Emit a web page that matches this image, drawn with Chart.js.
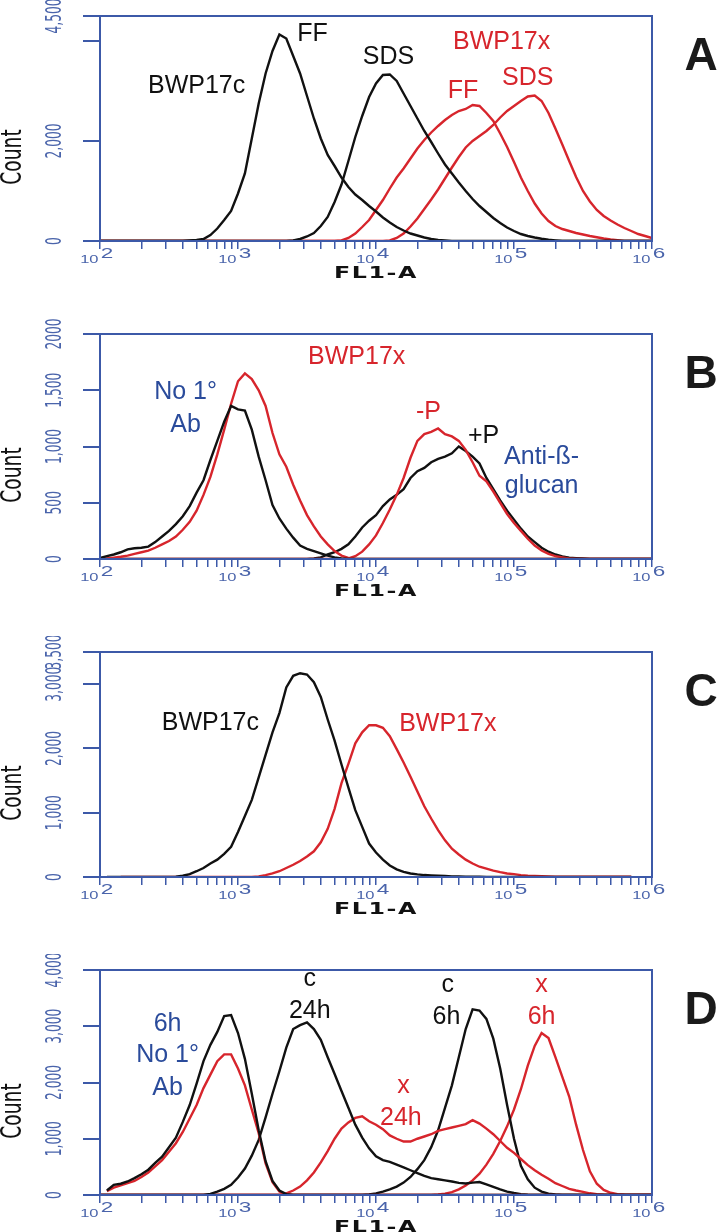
<!DOCTYPE html>
<html>
<head>
<meta charset="utf-8">
<script src="https://cdn.jsdelivr.net/npm/chart.js"></script>
<style>
  body { margin: 0; background: #fff; width: 723px; height: 1232px; position: relative; overflow: hidden; }
  .panel { position: absolute; left: 0; width: 723px; height: 290px; }
</style>
</head>
<body>
<div class="panel" style="top:0px"><canvas id="chartA"></canvas></div>
<div class="panel" style="top:318px"><canvas id="chartB"></canvas></div>
<div class="panel" style="top:636px"><canvas id="chartC"></canvas></div>
<div class="panel" style="top:954px"><canvas id="chartD"></canvas></div>
<script>
const INK = "#111111";
const RED = "#d7252c";
const BLUE = "#2a4b9b";
const AXIS_BLUE = "#3c59a8";
const TICK_BLUE = "#4a64ab";

// FL1-A channels, as powers of ten (10^2 .. 10^6)
const channelExp = [
  2.00, 2.05, 2.10, 2.15, 2.20, 2.25, 2.30, 2.35, 2.40, 2.45,
  2.50, 2.55, 2.60, 2.65, 2.70, 2.75, 2.80, 2.85, 2.90, 2.95,
  3.00, 3.05, 3.10, 3.15, 3.20, 3.25, 3.30, 3.35, 3.40, 3.45,
  3.50, 3.55, 3.60, 3.65, 3.70, 3.75, 3.80, 3.85, 3.90, 3.95,
  4.00, 4.05, 4.10, 4.15, 4.20, 4.25, 4.30, 4.35, 4.40, 4.45,
  4.50, 4.55, 4.60, 4.65, 4.70, 4.75, 4.80, 4.85, 4.90, 4.95,
  5.00, 5.05, 5.10, 5.15, 5.20, 5.25, 5.30, 5.35, 5.40, 5.45,
  5.50, 5.55, 5.60, 5.65, 5.70, 5.75, 5.80, 5.85, 5.90, 5.95,
  6.00,
];
const decadeExp = [2, 3, 4, 5, 6];

// Panel A counts
const aControlFF = [
  0, 0, 0, 0, 0, 0, 0, 0, 0, 0,
  0, 0, 0, 10, 20, 40, 120, 250, 420, 600,
  950, 1350, 2050, 2750, 3350, 3800, 4130, 4050, 3700, 3350,
  2900, 2450, 2050, 1720, 1500, 1270, 1080, 930, 820, 700,
  590, 470, 370, 280, 210, 150, 110, 70, 40, 20,
  10, 0, 0, 0, 0, 0, 0, 0, 0, 0,
  0, 0, 0, 0, 0, 0, 0, 0, 0, 0,
  0, 0, 0, 0, 0, 0, 0, 0, 0, 0,
  0,
];
const aControlSDS = [
  0, 0, 0, 0, 0, 0, 0, 0, 0, 0,
  0, 0, 0, 0, 0, 0, 0, 0, 0, 0,
  0, 0, 0, 0, 0, 0, 0, 0, 10, 40,
  90, 160, 300, 480, 780, 1130, 1600, 2080, 2500, 2880,
  3150, 3320, 3330, 3200, 2950, 2700, 2450, 2200, 1980, 1750,
  1530, 1350, 1170, 1000, 840, 700, 580, 460, 360, 270,
  200, 140, 100, 70, 45, 25, 12, 0, 0, 0,
  0, 0, 0, 0, 0, 0, 0, 0, 0, 0,
  0,
];
const aMutantFF = [
  0, 0, 0, 0, 0, 0, 0, 0, 0, 0,
  0, 0, 0, 0, 0, 0, 0, 0, 0, 0,
  0, 0, 0, 0, 0, 0, 0, 0, 0, 0,
  0, 0, 0, 0, 0, 10, 60, 150, 280, 420,
  620, 820, 1050, 1270, 1450, 1650, 1850, 2020, 2170, 2300,
  2420, 2520, 2600, 2640, 2720, 2700, 2560, 2400, 2150, 1880,
  1580, 1270, 1000, 750, 550, 400, 300, 240, 200, 160,
  130, 100, 75, 50, 30, 15, 0, 0, 0, 0,
  0,
];
const aMutantSDS = [
  0, 0, 0, 0, 0, 0, 0, 0, 0, 0,
  0, 0, 0, 0, 0, 0, 0, 0, 0, 0,
  0, 0, 0, 0, 0, 0, 0, 0, 0, 0,
  0, 0, 0, 0, 0, 0, 0, 0, 0, 0,
  0, 0, 10, 60, 150, 290, 450, 640, 830, 1030,
  1250, 1470, 1680, 1870, 2000, 2100, 2200, 2320, 2470, 2600,
  2700, 2800, 2890, 2910, 2800, 2560, 2250, 1930, 1600, 1280,
  1000, 790, 620, 500, 410, 330, 260, 200, 140, 100,
  60,
];

// Panel B counts
const bNoAbControl = [
  10, 25, 40, 60, 85, 95, 100, 110, 150, 200,
  250, 310, 380, 470, 590, 700, 880, 1050, 1220, 1360,
  1330, 1320, 1150, 910, 700, 480, 360, 270, 190, 120,
  90, 70, 50, 30, 15, 5, 0, 0, 0, 0,
  0, 0, 0, 0, 0, 0, 0, 0, 0, 0,
  0, 0, 0, 0, 0, 0, 0, 0, 0, 0,
  0, 0, 0, 0, 0, 0, 0, 0, 0, 0,
  0, 0, 0, 0, 0, 0, 0, 0, 0, 0,
  0,
];
const bNoAbMutant = [
  0, 5, 12, 20, 30, 45, 60, 75, 100, 130,
  160, 200, 260, 330, 430, 570, 730, 930, 1150, 1380,
  1580, 1650, 1600, 1500, 1360, 1120, 930, 820, 660, 520,
  390, 290, 200, 130, 70, 30, 10, 0, 0, 0,
  0, 0, 0, 0, 0, 0, 0, 0, 0, 0,
  0, 0, 0, 0, 0, 0, 0, 0, 0, 0,
  0, 0, 0, 0, 0, 0, 0, 0, 0, 0,
  0, 0, 0, 0, 0, 0, 0, 0, 0, 0,
  0,
];
const bGlucanControl = [
  0, 0, 0, 0, 0, 0, 0, 0, 0, 0,
  0, 0, 0, 0, 0, 0, 0, 0, 0, 0,
  0, 0, 0, 0, 0, 0, 0, 0, 0, 0,
  0, 5, 15, 40, 60, 90, 130, 200, 280, 340,
  390, 470, 530, 570, 620, 720, 780, 810, 860, 890,
  910, 940, 1000, 960, 910, 850, 720, 620, 520, 430,
  350, 270, 200, 150, 100, 65, 40, 22, 12, 8,
  5, 0, 0, 0, 0, 0, 0, 0, 0, 0,
  0,
];
const bGlucanMutant = [
  0, 0, 0, 0, 0, 0, 0, 0, 0, 0,
  0, 0, 0, 0, 0, 0, 0, 0, 0, 0,
  0, 0, 0, 0, 0, 0, 0, 0, 0, 0,
  0, 0, 0, 0, 0, 0, 5, 25, 65, 130,
  210, 320, 440, 570, 720, 900, 1050, 1110, 1130, 1160,
  1110, 1090, 1050, 970, 860, 740, 690, 600, 500, 400,
  320, 250, 180, 120, 75, 45, 25, 15, 5, 0,
  0, 0, 0, 0, 0, 0, 0, 0, 0, 0,
  0,
];

// Panel C counts
const cControl = [
  null, 0, 0, 0, 0, 0, 0, 0, 0, 0,
  0, 5, 20, 45, 90, 140, 210, 270, 360, 470,
  700, 950, 1200, 1550, 1900, 2250, 2550, 2950, 3130, 3170,
  3150, 3030, 2800, 2450, 2120, 1750, 1390, 1040, 780, 520,
  380, 270, 180, 120, 80, 55, 40, 30, 25, 20,
  15, 10, 8, 5, 5, 5, 0, 0, 0, 0,
  0, 0, 0, 0, 0, 0, 0, 0, 0, 0,
  0, 0, 0, 0, 0, 0, 0, 0, null, null,
  null,
];
const cMutant = [
  null, null, null, 0, 0, 0, 0, 0, 0, 0,
  0, 0, 0, 0, 0, 0, 0, 0, 0, 0,
  0, 0, 0, 10, 30, 55, 90, 140, 190, 250,
  320, 400, 540, 750, 1060, 1460, 1760, 2080, 2250, 2360,
  2360, 2320, 2190, 1990, 1780, 1560, 1330, 1100, 910, 730,
  570, 440, 350, 270, 210, 160, 130, 100, 75, 55,
  45, 30, 20, 15, 12, 10, 5, 5, 5, 5,
  5, 5, 5, 5, 5, 5, 5, 5, null, null,
  null,
];

// Panel D counts
const dNoAbControl = [
  null, 80, 180, 200, 240, 300, 370, 450, 570, 680,
  850, 1020, 1300, 1600, 1980, 2380, 2670, 2900, 3180, 3200,
  2880, 2420, 1800, 1150, 600, 250, 80, 15, 0, 0,
  0, 0, 0, 0, 0, 0, 0, 0, 0, 0,
  0, 0, 0, 0, 0, 0, 0, 0, 0, 0,
  0, 0, 0, 0, 0, 0, 0, 0, 0, 0,
  0, 0, 0, 0, 0, 0, 0, 0, 0, 0,
  0, 0, 0, 0, 0, 0, 0, 0, 0, 0,
  0,
];
const dNoAbMutant = [
  null, 70, 130, 170, 210, 250, 320, 400, 510, 620,
  770, 920, 1120, 1360, 1600, 1900, 2140, 2380, 2500, 2500,
  2250, 1950, 1520, 1100, 560, 230, 60, 10, 0, 0,
  0, 0, 0, 0, 0, 0, 0, 0, 0, 0,
  0, 0, 0, 0, 0, 0, 0, 0, 0, 0,
  0, 0, 0, 0, 0, 0, 0, 0, 0, 0,
  0, 0, 0, 0, 0, 0, 0, 0, 0, 0,
  0, 0, 0, 0, 0, 0, 0, 0, 0, 0,
  0,
];
const dControl24 = [
  0, 0, 0, 0, 0, 0, 0, 0, 0, 0,
  0, 0, 0, 0, 0, 0, 20, 60, 110, 180,
  310, 470, 700, 980, 1380, 1800, 2200, 2620, 2950, 3020,
  3070, 2950, 2760, 2450, 2150, 1850, 1550, 1250, 1020, 830,
  690, 620, 590, 540, 490, 440, 390, 340, 300, 280,
  260, 240, 215, 205, 220, 230, 190, 145, 100, 60,
  35, 15, 5, 0, 0, 0, 0, 0, 0, 0,
  0, 0, 0, 0, 0, 0, 0, 0, 0, 0,
  0,
];
const dMutant24 = [
  0, 0, 0, 0, 0, 0, 0, 0, 0, 0,
  0, 0, 0, 0, 0, 0, 0, 0, 0, 0,
  0, 0, 0, 0, 0, 0, 0, 30, 80, 150,
  260, 400, 580, 780, 1000, 1180, 1290, 1370, 1400, 1310,
  1250, 1170, 1060, 1000, 950, 950, 1000, 1040, 1080, 1140,
  1170, 1200, 1230, 1260, 1330, 1270, 1180, 1080, 960, 840,
  750, 640, 530, 440, 360, 290, 210, 160, 110, 80,
  55, 30, 15, 5, 0, 0, 0, 0, 0, 0,
  0,
];
const dControl6 = [
  0, 0, 0, 0, 0, 0, 0, 0, 0, 0,
  0, 0, 0, 0, 0, 0, 0, 0, 0, 0,
  0, 0, 0, 0, 0, 0, 0, 0, 0, 0,
  0, 0, 0, 0, 0, 0, 0, 0, 0, 10,
  30, 60, 100, 150, 220, 320, 460, 620, 850, 1150,
  1550, 1950, 2450, 2950, 3300, 3280, 3130, 2780, 2250, 1600,
  1000, 520, 280, 130, 60, 25, 8, 0, 0, 0,
  0, 0, 0, 0, 0, 0, 0, 0, 0, 0,
  0,
];
const dMutant6 = [
  0, 0, 0, 0, 0, 0, 0, 0, 0, 0,
  0, 0, 0, 0, 0, 0, 0, 0, 0, 0,
  0, 0, 0, 0, 0, 0, 0, 0, 0, 0,
  0, 0, 0, 0, 0, 0, 0, 0, 0, 0,
  0, 0, 0, 0, 0, 0, 0, 0, 0, 10,
  25, 50, 100, 170, 260, 380, 540, 730, 960, 1220,
  1520, 1880, 2300, 2650, 2880, 2790, 2450, 2100, 1750, 1250,
  800, 420, 200, 90, 40, 15, 5, 0, 0, 0,
  0,
];

// Count axes
const countTicksA = [0, 2000, 4000, 4500];
const countLabelsA = ["0", "2,000", "", "4,500"];
const countTicksB = [0, 500, 1000, 1500, 2000];
const countLabelsB = ["0", "500", "1,000", "1,500", "2000"];
const countTicksC = [0, 1000, 2000, 3000, 3500];
const countLabelsC = ["0", "1,000", "2,000", "3,000", "3,500"];
const countTicksD = [0, 1000, 2000, 3000, 4000];
const countLabelsD = ["0", "1,000", "2,000", "3,000", "4,000"];

// Labels written inside the plots (x as power of ten, y as count)
const notesA = [
  { text: "BWP17c", x: 2.70, y: 3100, color: INK },
  { text: "FF", x: 3.54, y: 4140, color: INK },
  { text: "SDS", x: 4.09, y: 3680, color: INK },
  { text: "BWP17x", x: 4.91, y: 3980, color: RED },
  { text: "FF", x: 4.63, y: 3000, color: RED },
  { text: "SDS", x: 5.10, y: 3260, color: RED },
];
const notesB = [
  { text: "No 1°", x: 2.62, y: 1482, color: BLUE },
  { text: "Ab", x: 2.62, y: 1188, color: BLUE },
  { text: "BWP17x", x: 3.86, y: 1795, color: RED },
  { text: "-P", x: 4.38, y: 1304, color: RED },
  { text: "+P", x: 4.78, y: 1089, color: INK },
  { text: "Anti-ß-", x: 5.20, y: 902, color: BLUE },
  { text: "glucan", x: 5.20, y: 652, color: BLUE },
];
const notesC = [
  { text: "BWP17c", x: 2.80, y: 2391, color: INK },
  { text: "BWP17x", x: 4.52, y: 2375, color: RED },
];
const notesD = [
  { text: "6h", x: 2.49, y: 3040, color: BLUE },
  { text: "No 1°", x: 2.49, y: 2489, color: BLUE },
  { text: "Ab", x: 2.49, y: 1902, color: BLUE },
  { text: "c", x: 3.52, y: 3840, color: INK },
  { text: "24h", x: 3.52, y: 3271, color: INK },
  { text: "c", x: 4.52, y: 3733, color: INK },
  { text: "6h", x: 4.51, y: 3164, color: INK },
  { text: "x", x: 5.20, y: 3733, color: RED },
  { text: "6h", x: 5.20, y: 3164, color: RED },
  { text: "x", x: 4.20, y: 1938, color: RED },
  { text: "24h", x: 4.18, y: 1369, color: RED },
];

// tick marks at 1..9 x each decade
const xTickValues = [];
decadeExp.forEach((e) => {
  for (let m = 1; m <= 9; m++) {
    if (e === 6 && m > 1) break;
    xTickValues.push(m * Math.pow(10, e));
  }
});

// axis texts, frame, notes and panel letter
const panelText = {
  id: "panelText",
  afterDraw(chart, args, opts) {
    const { ctx, chartArea: area } = chart;
    const xs = chart.scales.x;
    const ys = chart.scales.y;
    ctx.save();

    ctx.strokeStyle = AXIS_BLUE;
    ctx.lineWidth = 2;
    ctx.strokeRect(area.left, area.top, area.right - area.left, area.bottom - area.top);

    ctx.textAlign = "center";
    ctx.textBaseline = "middle";

    // count tick labels, turned and narrow
    ctx.fillStyle = TICK_BLUE;
    opts.yTicks.forEach((v, i) => {
      const label = opts.yLabels[i];
      if (!label) return;
      ctx.save();
      ctx.translate(55, ys.getPixelForValue(v));
      ctx.rotate(-Math.PI / 2);
      ctx.scale(0.62, 1);
      ctx.font = '22px "Liberation Sans Narrow", "DejaVu Sans Condensed", sans-serif';
      ctx.fillText(label, 0, 0);
      ctx.restore();
    });

    // "Count"
    ctx.save();
    ctx.fillStyle = INK;
    ctx.translate(14, area.bottom - 84);
    ctx.rotate(-Math.PI / 2);
    ctx.scale(0.74, 1);
    ctx.font = '28px "Liberation Sans Narrow", "DejaVu Sans Condensed", sans-serif';
    ctx.fillText("Count", 0, 0);
    ctx.restore();

    // decade labels 10^n
    ctx.fillStyle = TICK_BLUE;
    ctx.textBaseline = "alphabetic";
    decadeExp.forEach((e) => {
      ctx.save();
      ctx.translate(xs.getPixelForValue(Math.pow(10, e)), area.bottom);
      ctx.scale(1.5, 1);
      ctx.font = '11px "Liberation Sans", sans-serif';
      ctx.textAlign = "right";
      ctx.fillText("10", -1, 22);
      ctx.font = '15px "Liberation Sans", sans-serif';
      ctx.textAlign = "left";
      ctx.fillText(String(e), 0.5, 17);
      ctx.restore();
    });

    // FL1-A
    ctx.save();
    ctx.fillStyle = INK;
    ctx.font = 'bold 15px "DejaVu Sans", sans-serif';
    ctx.letterSpacing = "1px";
    const w = ctx.measureText("FL1-A").width;
    ctx.translate((area.left + area.right) / 2, area.bottom + 37);
    ctx.scale(84 / w, 1);
    ctx.textAlign = "center";
    ctx.fillText("FL1-A", 0, 0);
    ctx.restore();

    // notes inside the plot
    ctx.textAlign = "center";
    ctx.textBaseline = "middle";
    ctx.font = '25px "Liberation Sans", Arial, sans-serif';
    opts.notes.forEach((n) => {
      ctx.fillStyle = n.color;
      ctx.fillText(n.text, xs.getPixelForValue(Math.pow(10, n.x)), ys.getPixelForValue(n.y));
    });

    // panel letter
    ctx.fillStyle = "#1a1a1a";
    ctx.font = 'bold 46px "Liberation Sans", Arial, sans-serif';
    ctx.fillText(opts.letter, 701, area.top + 41);
    ctx.restore();
  },
};
Chart.register(panelText);

function makePanel(id, yMax, yTicks, yLabels, series, notes, letter) {
  const ctx = document.getElementById(id).getContext("2d");
  return new Chart(ctx, {
    type: "line",
    data: {
      datasets: series.map((s) => ({
        data: channelExp.map((e, i) => ({ x: Math.pow(10, e), y: s.counts[i] })),
        borderColor: s.color,
        borderWidth: 2.4,
        pointRadius: 0,
        tension: 0,
        fill: false,
        spanGaps: false,
      })),
    },
    options: {
      responsive: true,
      maintainAspectRatio: false,
      animation: false,
      events: [],
      layout: { padding: { top: 16, right: 71, left: 0, bottom: 0 } },
      scales: {
        x: {
          type: "logarithmic",
          min: 100,
          max: 1000000,
          afterBuildTicks: (scale) => {
            scale.ticks = xTickValues.map((v) => ({ value: v }));
          },
          afterFit: (scale) => {
            scale.height = 49;
          },
          ticks: { callback: () => "", autoSkip: false, maxRotation: 0 },
          grid: { drawOnChartArea: false, tickLength: 8, color: AXIS_BLUE, lineWidth: 1.5 },
          border: { color: AXIS_BLUE, width: 2 },
        },
        y: {
          type: "linear",
          min: 0,
          max: yMax,
          afterBuildTicks: (scale) => {
            scale.ticks = yTicks.map((v) => ({ value: v }));
          },
          afterFit: (scale) => {
            scale.width = 100;
          },
          ticks: { callback: () => "", autoSkip: false },
          grid: { drawOnChartArea: false, tickLength: 17, color: AXIS_BLUE, lineWidth: 2 },
          border: { color: AXIS_BLUE, width: 2 },
        },
      },
      plugins: {
        legend: { display: false },
        tooltip: { enabled: false },
        panelText: { yTicks: yTicks, yLabels: yLabels, notes: notes, letter: letter },
      },
    },
  });
}

makePanel("chartA", 4500, countTicksA, countLabelsA, [
  { counts: aControlFF, color: INK },
  { counts: aControlSDS, color: INK },
  { counts: aMutantFF, color: RED },
  { counts: aMutantSDS, color: RED },
], notesA, "A");

makePanel("chartB", 2000, countTicksB, countLabelsB, [
  { counts: bNoAbControl, color: INK },
  { counts: bNoAbMutant, color: RED },
  { counts: bGlucanMutant, color: RED },
  { counts: bGlucanControl, color: INK },
], notesB, "B");

makePanel("chartC", 3500, countTicksC, countLabelsC, [
  { counts: cControl, color: INK },
  { counts: cMutant, color: RED },
], notesC, "C");

makePanel("chartD", 4000, countTicksD, countLabelsD, [
  { counts: dNoAbControl, color: INK },
  { counts: dNoAbMutant, color: RED },
  { counts: dControl24, color: INK },
  { counts: dMutant24, color: RED },
  { counts: dControl6, color: INK },
  { counts: dMutant6, color: RED },
], notesD, "D");
</script>
</body>
</html>
